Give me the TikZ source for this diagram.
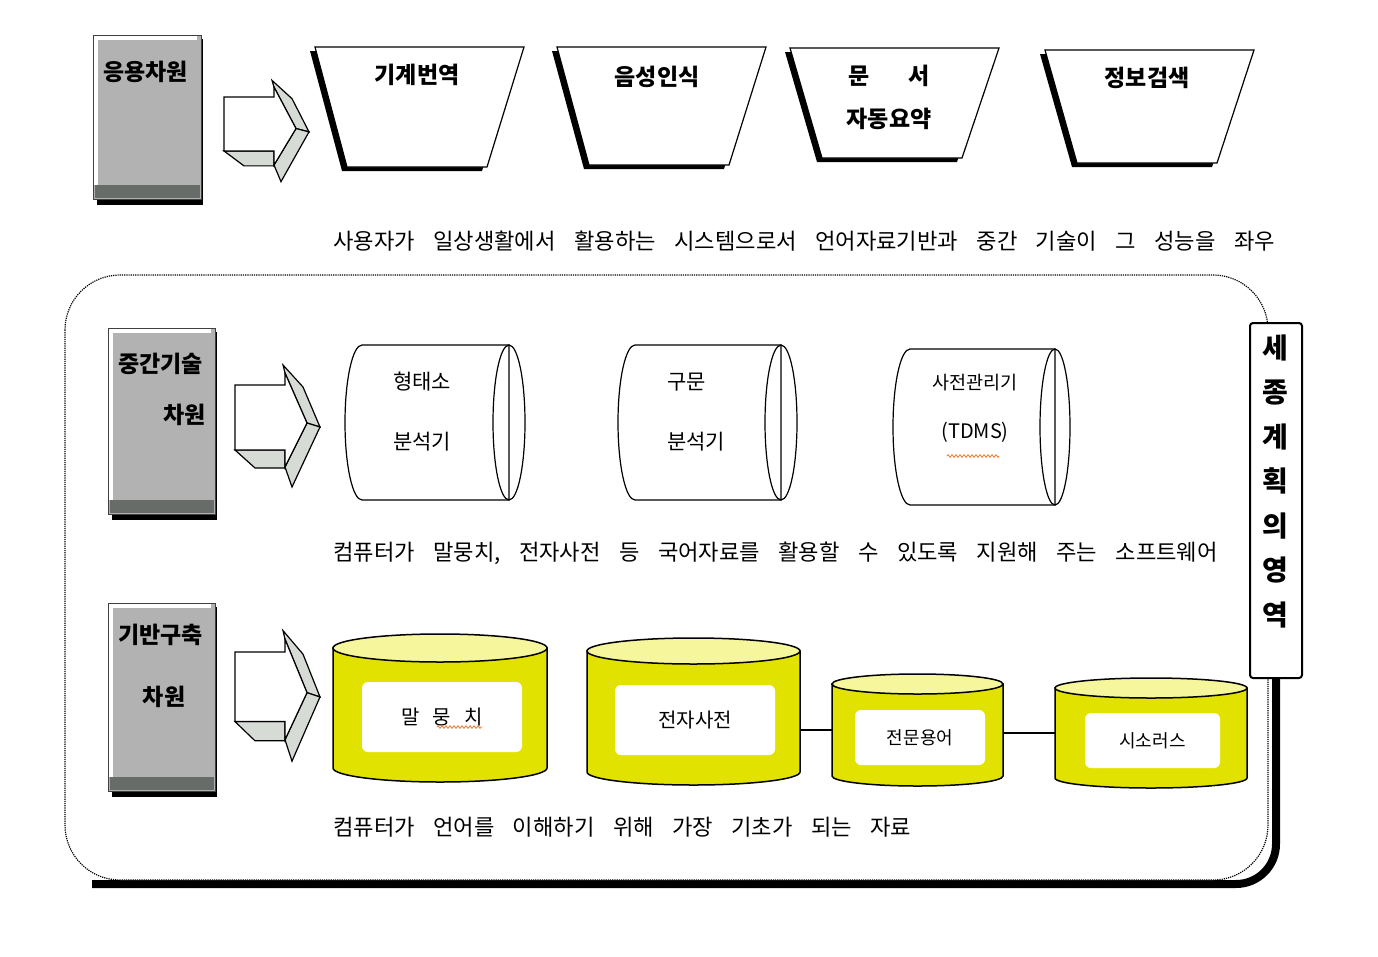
\documentclass[tikz,border=0pt]{standalone}
\usepackage{fontspec}
\setmainfont{Noto Sans CJK KR}[WordSpace=3.7]
\usetikzlibrary{decorations.pathmorphing}

\definecolor{boxgray}{RGB}{178,178,178}
\definecolor{bandgray}{RGB}{104,108,104}
\definecolor{facegray}{RGB}{214,219,214}
\definecolor{drumbody}{RGB}{226,226,0}
\definecolor{drumtop}{RGB}{246,246,156}
\definecolor{squiggle}{RGB}{240,120,40}

\tikzset{
  linetext/.style={anchor=west, inner sep=0, font=\fontsize{22.2}{26}\selectfont},
  boxlabel/.style={inner sep=0, font=\fontsize{23}{26}\selectfont\bfseries},
  traplabel/.style={inner sep=0, font=\fontsize{23}{43}\selectfont\bfseries, align=center},
  tubelabel/.style={inner sep=0, font=\fontsize{21}{60}\selectfont},
  drumlabel/.style={fill=white, rounded corners=6, inner sep=0, font=\fontsize{20}{24}\selectfont},
  spell/.style={draw=squiggle, line width=0.8, decorate, decoration={zigzag, segment length=4, amplitude=1.3}},
  pics/blockarrow/.style={code={
    % 아래쪽 면
    \filldraw[fill=facegray, line width=1.2] (0,65) -- (20,83) -- (50,83) -- (50,65) -- cycle;
    % 머리의 위아래 면
    \filldraw[fill=facegray, line width=1.2] (48,-20) -- (68,2) -- (85,42) -- (72,38) -- (50,-12) -- cycle;
    \filldraw[fill=facegray, line width=1.2] (72,38) -- (85,42) -- (57,102) -- (50,82) -- cycle;
    % 앞면
    \filldraw[fill=white, line width=1.2] (0,0) -- (50,0) -- (50,-12) -- (72,38) -- (50,82) -- (50,65) -- (0,65) -- cycle;
  }}
}

% 회색 차원 상자: 왼쪽, 위, 오른쪽, 아래
\newcommand\levelbox[4]{%
  \fill[black] (#1+4,#2+4) rectangle (#3,#4);
  \filldraw[fill=boxgray, draw=black!75, line width=1] (#1,#2) rectangle (#3-2,#4-6);
  \draw[white, line width=3.5] (#1+3,#4-20) -- (#1+3,#2+3) -- (#3-6,#2+3);
  \fill[bandgray] (#1+2,#4-20) rectangle (#3-3,#4-7);
}
% 누운 원통: 왼쪽 x, 오른쪽 x, 위 y, 아래 y, 끝 반지름
\newcommand\tube[5]{%
  \filldraw[fill=white, line width=1.2] (#1,#3) -- (#2,#3) -- (#2,#4) -- (#1,#4)
    arc[start angle=90, end angle=270, x radius=17, y radius={(#4-#3)/2}] -- cycle;
  \draw[line width=1.2] (#2,{(#3+#4)/2}) ellipse[x radius=#5, y radius={(#4-#3)/2}];
}
% 노란 원통: 이름, 왼쪽 x, 오른쪽 x, 윗면 y, 밑면 y, 타원 y 반지름
\newcommand\drum[6]{%
  \pgfmathsetmacro\drumrx{(#3-#2)/2}
  \filldraw[fill=drumbody, line width=1.5] (#2,#4) -- (#2,#5)
    arc[start angle=180, end angle=0, x radius=\drumrx, y radius=#6] -- (#3,#4) -- cycle;
  \filldraw[fill=drumtop, line width=1.5] ({(#2+#3)/2},#4) ellipse[x radius=\drumrx, y radius=#6];
  \coordinate (#1-w) at (#2,{(#4+#5)/2});
  \coordinate (#1-e) at (#3,{(#4+#5)/2});
}

\begin{document}
\begin{tikzpicture}[x=1pt, y=-1pt]
        \useasboundingbox (0,0) rectangle (1378,956);
        % 점선 영역과 그 그림자
        \draw[line width=8, rounded corners=40] (1276,560) -- (1276,884) -- (92,884);
        \draw[densely dotted, line width=1.2, fill=white, rounded corners=55] (65,275) rectangle (1268,880);
        % 세종계획의 영역 상자
        \node[draw, line width=2, fill=white, rounded corners=3, minimum width=52, minimum height=355, inner sep=0] (region) at (1276,500.5) {};
        \node[inner sep=0, align=center, font=\fontsize{28}{44.5}\selectfont\bfseries] (regiontext) at (1275,481.5) {세\\종\\계\\획\\의\\영\\역};

        % 세 개의 차원 상자
        \levelbox{93}{35}{203}{205}
        \levelbox{108}{328}{217}{520}
        \levelbox{108}{603}{217}{797}
        \node[boxlabel, anchor=west] (applevel) at (103,72) {응용차원};
        \node[boxlabel, anchor=west] (midlevel) at (118,364) {중간기술};
        \node[boxlabel, anchor=east] (midlevel2) at (206,415) {차원};
        \node[boxlabel, anchor=west] (baselevel) at (118,635) {기반구축};
        \node[boxlabel] (baselevel2) at (164,697) {차원};

        % 입체 화살표
        \pic[yscale=0.83] at (224,97) {blockarrow};
        \pic at (235,385) {blockarrow};
        \pic[yscale=1.07] at (235,652) {blockarrow};

        % 응용 시스템 사다리꼴
        \foreach \x/\y/\h in {315/47/120, 557/47/118, 790/48/110, 1045/50/113} {
          \fill[black] (\x-5,\y+4) -- (\x+204,\y+4) -- (\x+167,\y+\h+4) -- (\x+27,\y+\h+4) -- cycle;
          \filldraw[fill=white, line width=1.2] (\x,\y) -- (\x+209,\y) -- (\x+172,\y+\h) -- (\x+32,\y+\h) -- cycle;
        }
        \node[traplabel] (mt) at (417,75) {기계번역};
        \node[traplabel] (sr) at (657,77) {음성인식};
        \node[traplabel] (ds) at (889,97) {문\hspace{38pt}서\\자동요약};
        \node[traplabel] (ir) at (1147,78) {정보검색};
        \node[linetext] (appnote) at (333,241) {사용자가 일상생활에서 활용하는 시스템으로서 언어자료기반과 중간 기술이 그 성능을 좌우};

        % 중간기술 원통
        \tube{362}{509}{345}{500}{16}
        \tube{635}{781}{345}{500}{16}
        \tube{910}{1055}{349}{505}{15}
        \node[tubelabel, anchor=west, align=left] (morph) at (393,412) {형태소\\분석기};
        \node[tubelabel, anchor=west, align=left] (parser) at (667,412) {구문\\분석기};
        \node[inner sep=0, font=\fontsize{18.5}{22}\selectfont] (dictmgr) at (975,383) {사전관리기};
        \node[inner sep=0, font=\fontsize{20}{24}\selectfont] (tdms) at (975,432) {(TDMS)};
        \draw[spell] (947,456) -- (999,456);
        \node[linetext] (midnote) at (333,553) {컴퓨터가 말뭉치, 전자사전 등 국어자료를 활용할 수 있도록 지원해 주는 소프트웨어};

        % 기반구축 원통
        \drum{corpus}{333}{547}{648}{768}{14}
        \drum{dict}{587}{800}{651}{772}{13}
        \drum{term}{832}{1003}{684}{776}{10}
        \drum{thes}{1055}{1247}{688}{778}{10}
        \node[drumlabel, minimum width=160, minimum height=70] (corpuslabel) at (442,717) {말\hspace{13pt}뭉\hspace{13pt}치};
        \node[drumlabel, minimum width=160, minimum height=70] (dictlabel) at (695,720) {전자사전};
        \node[drumlabel, minimum width=130, minimum height=55, font=\fontsize{18}{22}\selectfont] (termlabel) at (920,737.5) {전문용어};
        \node[drumlabel, minimum width=135, minimum height=55, font=\fontsize{18}{22}\selectfont] (theslabel) at (1152.5,740.5) {시소러스};
        \draw[spell] (437,727) -- (482,727);
        \draw[line width=1.2] (dict-e |- term-w) -- (term-w);
        \draw[line width=1.2] (term-e |- thes-w) -- (thes-w);
        \node[linetext] (basenote) at (333,827) {컴퓨터가 언어를 이해하기 위해 가장 기초가 되는 자료};
    \end{tikzpicture}
\end{document}
